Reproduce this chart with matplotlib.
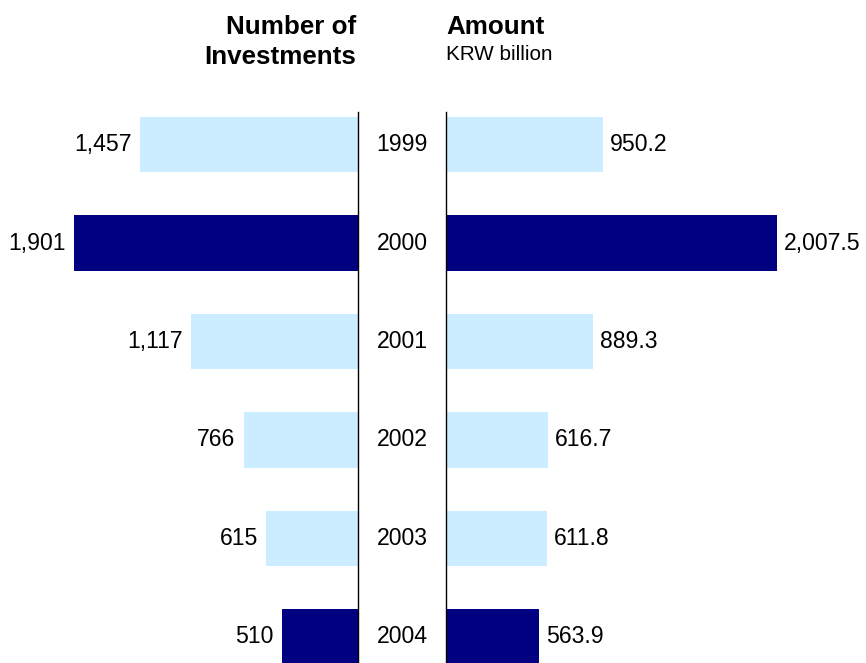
import matplotlib.pyplot as plt
from matplotlib import transforms

plt.rcParams['font.family'] = ['Liberation Sans', 'DejaVu Sans']

years = ['1999', '2000', '2001', '2002', '2003', '2004']
n_invest = [1457, 1901, 1117, 766, 615, 510]
amount = [950.2, 2007.5, 889.3, 616.7, 611.8, 563.9]
highlight = [False, True, False, False, False, True]

light = '#CCECFF'
dark = '#000080'
colors = [dark if h else light for h in highlight]
fs = 16.6
fs_head = 18.7

W, H = 866, 663
fig = plt.figure(figsize=(W / 100, H / 100), dpi=100)

# axes placed in pixel terms
top_px, bot_px = 112, 663
ax_l = fig.add_axes([0, 0, 358 / W, (bot_px - top_px) / H])
ax_r = fig.add_axes([446 / W, 0, (W - 446) / W, (bot_px - top_px) / H])

ypos = list(range(len(years)))
ylim = (5.264, -0.33)

ax_l.barh(ypos, n_invest, height=0.56, color=colors)
ax_l.set_xlim(2396, 0)
ax_r.barh(ypos, amount, height=0.56, color=colors)
ax_r.set_xlim(0, 2547)

for ax in (ax_l, ax_r):
    ax.set_ylim(*ylim)
    ax.set_xticks([])
    ax.set_yticks([])
    for s in ax.spines.values():
        s.set_visible(False)
ax_l.spines['right'].set_visible(True)
ax_r.spines['left'].set_visible(True)
ax_l.spines['right'].set_linewidth(1.0)
ax_r.spines['left'].set_linewidth(1.0)

for y, v in zip(ypos, n_invest):
    ax_l.annotate(f'{v:,}', (v, y), xytext=(-5.8, 0), textcoords='offset points',
                  ha='right', va='center', fontsize=fs)
for y, v in zip(ypos, amount):
    ax_r.annotate(f'{v:,.1f}', (v, y), xytext=(5, 0), textcoords='offset points',
                  ha='left', va='center', fontsize=fs)

tr = transforms.blended_transform_factory(fig.transFigure, ax_l.transData)
for y, lab in zip(ypos, years):
    fig.text(402 / W, y, lab, transform=tr, ha='center', va='center', fontsize=fs)

fig.text(356 / W, 1 - 34 / H, 'Number of', ha='right', va='baseline',
         fontsize=fs_head, fontweight='bold')
fig.text(356 / W, 1 - 64 / H, 'Investments', ha='right', va='baseline',
         fontsize=fs_head, fontweight='bold')
fig.text(446 / W, 1 - 34 / H, 'Amount', ha='left', va='baseline',
         fontsize=fs_head, fontweight='bold')
fig.text(446 / W, 1 - 60 / H, 'KRW billion', ha='left', va='baseline',
         fontsize=14.9)

fig.savefig('out.png', dpi=100)
